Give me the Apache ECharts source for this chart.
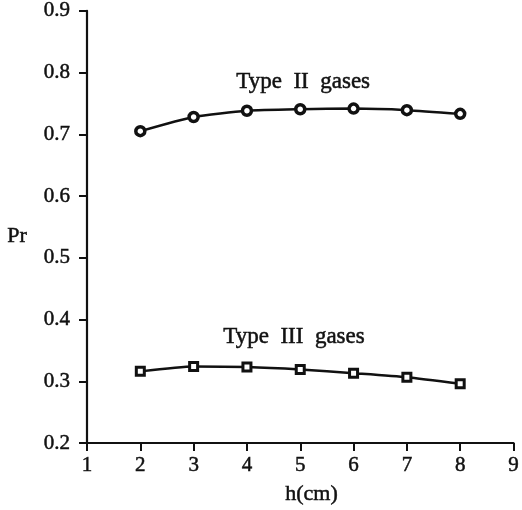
<!DOCTYPE html>
<html>
<head>
<meta charset="utf-8">
<script src="https://cdn.jsdelivr.net/npm/echarts@6/dist/echarts.min.js"></script>
<style>
  html, body { margin: 0; padding: 0; background: #fff; }
  #chart { width: 522px; height: 510px; }
</style>
</head>
<body>
<div id="chart"></div>
<script>
// Prandtl number versus height h for two gas groups
const heights = [2, 3, 4, 5, 6, 7, 8];
const typeIIPr = [0.705, 0.728, 0.738, 0.7405, 0.7415, 0.739, 0.733];
const typeIIIPr = [0.316, 0.324, 0.323, 0.319, 0.313, 0.3065, 0.296];
const seriesNames = ['Type II gases', 'Type III gases'];
const xTicks = [1, 2, 3, 4, 5, 6, 7, 8, 9];
const yTicks = [0.2, 0.3, 0.4, 0.5, 0.6, 0.7, 0.8, 0.9];

const FONT = '"Liberation Serif", "DejaVu Serif", serif';
const INK = '#111';
// a thin outline in the ink colour gives the text a heavier print look
const HEAVY = { textBorderColor: INK, textBorderWidth: 0.5 };

const pairs = (xs, ys) => xs.map((x, i) => [x, ys[i]]);

const chart = echarts.init(document.getElementById('chart'), null, { renderer: 'canvas' });

const axisCommon = {
  type: 'value',
  axisLine: { show: true, lineStyle: { color: INK, width: 2.2 } },
  axisTick: { show: true, length: 8, lineStyle: { color: INK, width: 2 } },
  splitLine: { show: false },
  axisLabel: Object.assign({ color: INK, fontFamily: FONT, fontSize: 21 }, HEAVY)
};

const textStyle = (text, size) =>
  Object.assign({ text: text, font: size + 'px ' + FONT, fill: INK, stroke: INK, lineWidth: 0.5 });

chart.setOption({
  backgroundColor: '#fff',
  animation: false,
  grid: { left: 87, right: 2, top: 10, bottom: 67, containLabel: false },
  xAxis: Object.assign({}, axisCommon, {
    min: xTicks[0], max: xTicks[xTicks.length - 1], interval: 1,
    axisLabel: Object.assign({}, axisCommon.axisLabel, { margin: 12 })
  }),
  yAxis: Object.assign({}, axisCommon, {
    min: yTicks[0], max: yTicks[yTicks.length - 1], interval: 0.1,
    axisLabel: Object.assign({}, axisCommon.axisLabel, {
      margin: 17, formatter: v => v.toFixed(1)
    })
  }),
  series: [
    {
      name: seriesNames[0], type: 'line', smooth: 0.2,
      data: pairs(heights, typeIIPr),
      symbol: 'circle', symbolSize: 9,
      lineStyle: { color: INK, width: 2.5 },
      itemStyle: { color: '#fff', borderColor: INK, borderWidth: 3.5 }
    },
    {
      name: seriesNames[1], type: 'line', smooth: 0.2,
      data: pairs(heights, typeIIIPr),
      symbol: 'rect', symbolSize: 8,
      lineStyle: { color: INK, width: 2.5 },
      itemStyle: { color: '#fff', borderColor: INK, borderWidth: 3 }
    }
  ],
  graphic: [
    { type: 'text', left: 236, top: 70, style: textStyle('Type  II  gases', 23) },
    { type: 'text', left: 223, top: 325, style: textStyle('Type  III  gases', 23) },
    { type: 'text', left: 7, top: 225, style: textStyle('Pr', 22) },
    { type: 'text', left: 285, top: 483, style: textStyle('h(cm)', 22) }
  ]
});
</script>
</body>
</html>
